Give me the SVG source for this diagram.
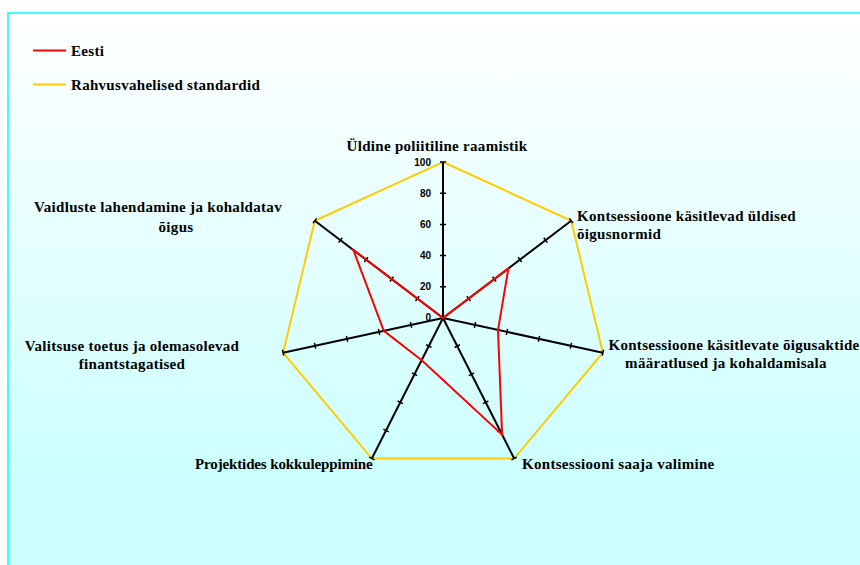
<svg xmlns="http://www.w3.org/2000/svg" width="860" height="565" viewBox="0 0 860 565">
  <defs>
    <linearGradient id="bg" gradientUnits="userSpaceOnUse" x1="0" y1="13" x2="0" y2="475">
      <stop offset="0" stop-color="#FFFFFF"/>
      <stop offset="1" stop-color="#CCFFFF"/>
    </linearGradient>
    <style>
      .cat { font-family: "Liberation Serif", "Times New Roman", serif; font-weight: bold; font-size: 15px; letter-spacing: 0.3px; fill: #000; }
      .num { font-family: "Liberation Sans", Arial, sans-serif; font-weight: bold; font-size: 10px; fill: #000; text-anchor: end; }
      .axis { stroke: #000; stroke-width: 2; fill: none; }
      .tick { stroke: #000; stroke-width: 1.5; fill: none; }
      .std { stroke: #FFCC00; stroke-width: 2; fill: none; stroke-linejoin: miter; }
      .est { stroke: #FF0000; stroke-width: 2; fill: none; stroke-linejoin: miter; }
    </style>
  </defs>

  <rect x="0" y="0" width="860" height="565" fill="#FFFFFF"/>
  <g id="frame">
    <rect x="8" y="13" width="870" height="570" fill="url(#bg)" stroke="#00FFFF" stroke-width="1.5"/>
  </g>

  <g id="legend">
    <line x1="33" y1="50.5" x2="66" y2="50.5" stroke="#FF0000" stroke-width="2"/>
    <text class="cat" x="71" y="55.5">Eesti</text>
    <line x1="33" y1="84.5" x2="66" y2="84.5" stroke="#FFCC00" stroke-width="2"/>
    <text class="cat" x="71" y="90">Rahvusvahelised standardid</text>
  </g>

  <g id="standard-series">
    <polygon class="std" points="443,162 571.22,220.74 602.89,352.71 514.16,458.55 371.84,458.55 283.11,352.71 314.78,220.74"/>
  </g>

  <g id="axes">
    <line class="axis" x1="443" y1="318" x2="443" y2="162"/>
    <line class="axis" x1="443" y1="318" x2="571.22" y2="220.74"/>
    <line class="axis" x1="443" y1="318" x2="602.89" y2="352.71"/>
    <line class="axis" x1="443" y1="318" x2="514.16" y2="458.55"/>
    <line class="axis" x1="443" y1="318" x2="371.84" y2="458.55"/>
    <line class="axis" x1="443" y1="318" x2="283.11" y2="352.71"/>
    <line class="axis" x1="443" y1="318" x2="314.78" y2="220.74"/>
  </g>

  <g id="ticks">
    <path class="tick" d="M440,286.8h6 M440,255.6h6 M440,224.4h6 M440,193.2h6 M440,162h6"/>
    <path class="tick" d="M466.83,296.16l3.62,4.78 M492.48,276.71l3.62,4.78 M518.12,257.25l3.62,4.78 M543.77,237.8l3.62,4.78 M569.41,218.35l3.62,4.78"/>
    <path class="tick" d="M475.62,322.01l-1.27,5.86 M507.6,328.95l-1.27,5.86 M539.57,335.9l-1.27,5.86 M571.55,342.84l-1.27,5.86 M603.53,349.78l-1.27,5.86"/>
    <path class="tick" d="M454.55,347.47l5.36,-2.72 M468.78,375.58l5.36,-2.72 M483.02,403.69l5.36,-2.72 M497.25,431.8l5.36,-2.72 M511.48,459.91l5.36,-2.72"/>
    <path class="tick" d="M431.45,347.47l-5.36,-2.72 M417.22,375.58l-5.36,-2.72 M402.98,403.69l-5.36,-2.72 M388.75,431.8l-5.36,-2.72 M374.52,459.91l-5.36,-2.72"/>
    <path class="tick" d="M410.38,322.01l1.27,5.86 M378.4,328.95l1.27,5.86 M346.43,335.9l1.27,5.86 M314.45,342.84l1.27,5.86 M282.47,349.78l1.27,5.86"/>
    <path class="tick" d="M419.17,296.16l-3.62,4.78 M393.52,276.71l-3.62,4.78 M367.88,257.25l-3.62,4.78 M342.23,237.8l-3.62,4.78 M316.59,218.35l-3.62,4.78"/>
  </g>

  <g id="eesti-series">
    <polygon class="est" points="443,318 508.4,268.4 498,330 502.1,434.7 421.7,360.2 383.8,330.8 353.3,249.9"/>
  </g>

  <g id="scale-labels">
    <text class="num" x="431" y="321">0</text>
    <text class="num" x="431" y="290">20</text>
    <text class="num" x="431" y="259">40</text>
    <text class="num" x="431" y="227.5">60</text>
    <text class="num" x="431" y="196.5">80</text>
    <text class="num" x="431" y="165.5">100</text>
  </g>

  <g id="category-labels">
    <text class="cat" x="437" y="150.5" text-anchor="middle">Üldine poliitiline raamistik</text>
    <text class="cat" x="577" y="220.5">Kontsessioone käsitlevad üldised</text>
    <text class="cat" x="577" y="239">õigusnormid</text>
    <text class="cat" x="734" y="349.5" text-anchor="middle">Kontsessioone käsitlevate õigusaktide</text>
    <text class="cat" x="726" y="367.5" text-anchor="middle">määratlused ja kohaldamisala</text>
    <text class="cat" x="522" y="468.5">Kontsessiooni saaja valimine</text>
    <text class="cat" x="195" y="468.5" letter-spacing="0" textLength="178" lengthAdjust="spacing">Projektides kokkuleppimine</text>
    <text class="cat" x="132" y="350.5" text-anchor="middle">Valitsuse toetus ja olemasolevad</text>
    <text class="cat" x="132" y="368.5" text-anchor="middle">finantstagatised</text>
    <text class="cat" x="158" y="212" text-anchor="middle">Vaidluste lahendamine ja kohaldatav</text>
    <text class="cat" x="176" y="232" text-anchor="middle">õigus</text>
  </g>
</svg>
